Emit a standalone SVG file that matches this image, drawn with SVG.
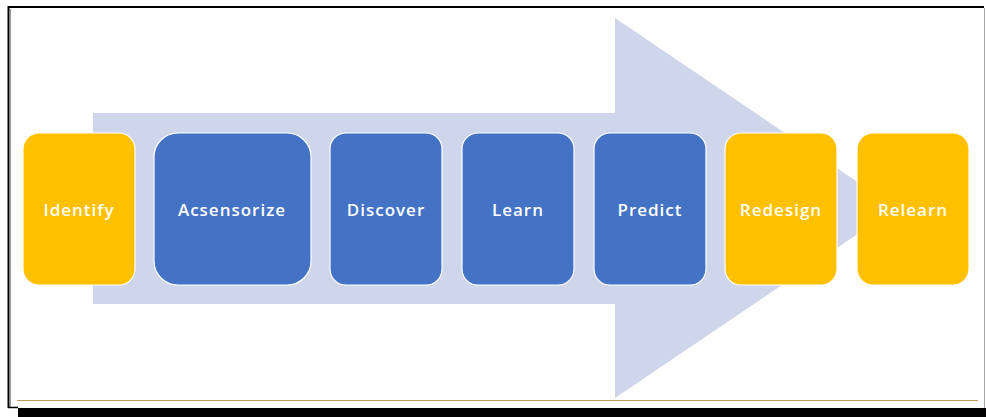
<svg xmlns="http://www.w3.org/2000/svg" width="986" height="417" viewBox="0 0 986 417">
<style>
.node rect{stroke:#ffffff;stroke-width:1.2}
.y rect{fill:#FFC000}
.b rect{fill:#4472C4}
.node text{fill:#ffffff;font-family:"Open Sans","Liberation Sans",sans-serif;font-weight:600;font-size:17px;letter-spacing:1px;text-anchor:middle;dominant-baseline:central}
</style>
<rect x="0" y="0" width="986" height="417" fill="#ffffff"/>
<g id="frame">
<path d="M8.5 408 V7 H984" fill="none" stroke="#000" stroke-width="2"/>
<line x1="10.5" y1="9" x2="10.5" y2="407" stroke="#999" stroke-width="1"/>
<line x1="984.5" y1="8" x2="984.5" y2="408" stroke="#aaa" stroke-width="1"/>
<line x1="8" y1="407.5" x2="18" y2="407.5" stroke="#000" stroke-width="1.5"/>
<rect x="18" y="408" width="968" height="9" fill="#000"/>
<line x1="17" y1="400.5" x2="978" y2="400.5" stroke="#C09A5B" stroke-width="1.2"/>
</g>
<g id="connectors">
<polygon points="93,113 615,113 615,18 896,208 615,398 615,304 93,304" fill="#CFD5EA"/>
</g>
<g id="identify" class="node y"><rect x="23" y="133" width="112" height="152" rx="16"/><text x="79" y="209">Identify</text></g>
<g id="acsensorize" class="node b"><rect x="154" y="133" width="157" height="152" rx="24"/><text x="232" y="209">Acsensorize</text></g>
<g id="discover" class="node b"><rect x="330" y="133" width="112" height="152" rx="16"/><text x="386" y="209">Discover</text></g>
<g id="learn" class="node b"><rect x="462" y="133" width="112" height="152" rx="16"/><text x="518" y="209">Learn</text></g>
<g id="predict" class="node b"><rect x="594" y="133" width="112" height="152" rx="16"/><text x="650" y="209">Predict</text></g>
<g id="redesign" class="node y"><rect x="725" y="133" width="112" height="152" rx="16"/><text x="781" y="209">Redesign</text></g>
<g id="relearn" class="node y"><rect x="857" y="133" width="112" height="152" rx="16"/><text x="913" y="209">Relearn</text></g>
</svg>
